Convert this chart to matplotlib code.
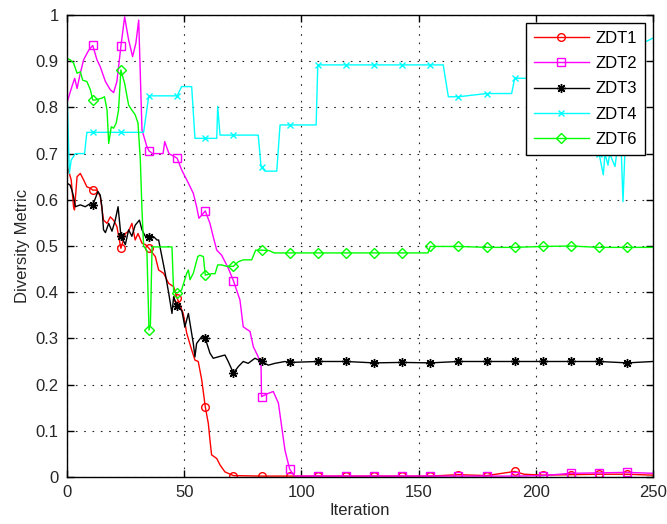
import matplotlib
matplotlib.use("Agg")
import matplotlib.pyplot as plt

plt.rcParams['font.family'] = ['Liberation Sans', 'DejaVu Sans']

# iterations where the curves carry a marker
MARK_X = [11, 23, 35, 47, 59, 71, 83, 95, 107, 119, 131, 143, 155, 167, 179, 191, 203, 215, 227, 239]

zdt1_x = [0, 1.8, 2.8, 3.2, 4.3, 5.7, 7.1, 8.5, 10, 11, 12.8, 14.2, 15.6, 17.1, 18.5, 20, 21.3, 23, 24.9, 26.3,
          27.7, 29.1, 30.3, 32, 33.5, 35, 37.7, 39.1, 41.2, 43.4, 45.5, 47, 49.6, 51.1, 53.2, 54.6, 56, 57.5, 59, 60.3,
          61, 61.7, 63.9, 65.3, 67.4, 71, 83, 95, 107, 119, 131, 143, 155, 167, 179, 191, 195, 203, 215, 227, 239, 250]
zdt1_y = [0.675, 0.643, 0.585, 0.578, 0.65, 0.657, 0.643, 0.628, 0.625, 0.621, 0.621, 0.607, 0.556, 0.549, 0.563,
          0.555, 0.542, 0.495, 0.527, 0.532, 0.549, 0.513, 0.527, 0.506, 0.503, 0.495, 0.477, 0.448, 0.441, 0.419,
          0.412, 0.387, 0.354, 0.311, 0.275, 0.253, 0.25, 0.21, 0.152, 0.116, 0.08, 0.048, 0.04, 0.026, 0.011,
          0.003, 0.002, 0.002, 0.002, 0.002, 0.002, 0.002, 0.002, 0.005, 0.003, 0.012, 0.006, 0.004, 0.005, 0.006,
          0.006, 0.004]

zdt2_x = [0, 2.1, 3.3, 4.3, 5.7, 7.1, 9.3, 11, 12.8, 14.2, 16.4, 18.5, 19.9, 21.3, 23, 24.6, 26.3, 28, 29.4, 30.6,
          32, 34.1, 35, 36.5, 41, 41.7, 43.5, 47, 48.9, 51.8, 53.9, 55.3, 56.3, 58.2, 59, 61, 62.4, 63.9, 66, 68.8,
          71, 73.8, 75.2, 78.1, 79.5, 81.6, 82.8, 83, 85.9, 88, 90.2, 91.6, 93, 95, 97, 107, 119, 131, 143, 155,
          167, 179, 191, 203, 215, 227, 239, 250]
zdt2_y = [0.81, 0.845, 0.863, 0.841, 0.874, 0.903, 0.924, 0.934, 0.903, 0.888, 0.856, 0.838, 0.832, 0.856, 0.932,
          0.996, 0.946, 0.91, 0.939, 0.989, 0.751, 0.715, 0.706, 0.70, 0.70, 0.726, 0.70, 0.69, 0.665, 0.636,
          0.614, 0.585, 0.56, 0.571, 0.576, 0.549, 0.52, 0.491, 0.48, 0.452, 0.425, 0.383, 0.325, 0.315, 0.282,
          0.26, 0.239, 0.174, 0.181, 0.185, 0.16, 0.109, 0.058, 0.017, 0.002, 0.002, 0.002, 0.002, 0.002, 0.002,
          0.002, 0.002, 0.002, 0.003, 0.008, 0.009, 0.01, 0.008]

zdt3_x = [0, 1.3, 2.1, 2.8, 3.6, 5.7, 7.8, 10, 11, 12.1, 13.2, 14.2, 14.9, 15.6, 16.4, 17.8, 19.2, 20.6, 21.8, 22.5,
          23, 24.9, 26.3, 27.7, 29.1, 30.9, 32, 33.4, 35, 37, 38.4, 39.1, 40.5, 41.9, 43.4, 44.8, 45.5, 47, 49, 50.3,
          51.8, 53.9, 54.6, 55.3, 57.5, 59, 61, 62.4, 64.5, 67.4, 68.8, 71, 73.1, 75.2, 77.3, 80.2, 83, 85.9, 88.7,
          93, 95, 107, 119, 131, 143, 155, 167, 179, 191, 203, 215, 227, 239, 250]
zdt3_y = [0.636, 0.632, 0.621, 0.607, 0.585, 0.589, 0.585, 0.592, 0.589, 0.603, 0.618, 0.61, 0.585, 0.535, 0.529,
          0.549, 0.532, 0.556, 0.585, 0.549, 0.522, 0.503, 0.535, 0.521, 0.545, 0.556, 0.535, 0.521, 0.52, 0.52,
          0.513, 0.513, 0.477, 0.441, 0.398, 0.354, 0.39, 0.37, 0.36, 0.325, 0.354, 0.289, 0.26, 0.289, 0.304,
          0.30, 0.268, 0.257, 0.26, 0.264, 0.25, 0.225, 0.239, 0.25, 0.246, 0.257, 0.25, 0.242, 0.246, 0.25,
          0.248, 0.25, 0.25, 0.247, 0.248, 0.247, 0.25, 0.25, 0.25, 0.25, 0.25, 0.25, 0.247, 0.25]

zdt4_x = [0, 1.0, 1.8, 3.6, 7.5, 8.5, 11, 23, 32.7, 34.9, 35, 47, 48.9, 53.2, 54.6, 59, 63.9, 64.3, 65.3, 71,
          81.6, 82.8, 83, 84.5, 89.5, 90.9, 95, 106.3, 107, 119, 131, 143, 155, 160.5, 162.7, 167, 179, 189.7, 191,
          203, 215, 226, 227, 228.8, 229.5, 230.8, 231.5, 233.8, 234.5, 236.5, 237.2, 238, 239, 246, 250]
zdt4_y = [0.845, 0.657, 0.686, 0.70, 0.70, 0.746, 0.746, 0.746, 0.746, 0.825, 0.825, 0.825, 0.845, 0.845, 0.733,
          0.733, 0.733, 0.802, 0.74, 0.74, 0.74, 0.672, 0.67, 0.662, 0.662, 0.762, 0.762, 0.762, 0.892, 0.892,
          0.892, 0.892, 0.892, 0.892, 0.823, 0.823, 0.83, 0.83, 0.863, 0.863, 0.863, 0.86, 0.70, 0.654, 0.70,
          0.675, 0.70, 0.672, 0.70, 0.70, 0.596, 0.70, 0.72, 0.94, 0.95]

zdt6_x = [0, 1.4, 2.8, 4.3, 5.7, 6.7, 8.5, 10, 11, 12, 13.5, 14.9, 16, 17.1, 17.8, 18.9, 19.9, 21, 22, 23,
          24.6, 26.3, 27.7, 29.1, 30.3, 31.3, 32, 32.7, 34.1, 35, 35.6, 36.3, 44.8, 45.5, 47, 48.9, 51.1, 51.8, 52.5,
          53.9, 55.8, 56.7, 58.2, 59, 61.7, 63.2, 64.3, 66, 68.1, 71, 73.1, 75.2, 78.8, 80.5, 83, 86.3, 88.4, 95,
          107, 119, 131, 143, 154, 155, 167, 179, 191, 203, 215, 227, 239, 250]
zdt6_y = [0.906, 0.903, 0.896, 0.874, 0.877, 0.859, 0.856, 0.838, 0.816, 0.816, 0.818, 0.82, 0.823, 0.794, 0.722,
          0.758, 0.755, 0.766, 0.794, 0.881, 0.852, 0.805, 0.794, 0.784, 0.766, 0.686, 0.578, 0.50, 0.49, 0.318,
          0.33, 0.498, 0.498, 0.40, 0.398, 0.405, 0.441, 0.448, 0.427, 0.441, 0.477, 0.48, 0.477, 0.437, 0.44,
          0.44, 0.459, 0.459, 0.456, 0.456, 0.466, 0.47, 0.47, 0.491, 0.491, 0.49, 0.485, 0.485, 0.485, 0.485,
          0.485, 0.485, 0.485, 0.499, 0.499, 0.497, 0.497, 0.499, 0.50, 0.497, 0.497, 0.497]

series = [
    ('ZDT1', zdt1_x, zdt1_y, '#ff0000', 'o', 5.5),
    ('ZDT2', zdt2_x, zdt2_y, '#ff00ff', 's', 6),
    ('ZDT3', zdt3_x, zdt3_y, '#000000', (8, 2, 0), 6.5),
    ('ZDT4', zdt4_x, zdt4_y, '#00ffff', 'x', 5),
    ('ZDT6', zdt6_x, zdt6_y, '#00ff00', 'D', 5),
]

fig = plt.figure(figsize=(6.67, 5.24), dpi=100)
ax = fig.add_axes([0.1004, 0.0897, 0.8786, 0.8817])

for name, xs, ys, col, mk, ms in series:
    idx = [i for i, x in enumerate(xs) if x in MARK_X]
    ax.plot(xs, ys, color=col, lw=1.0, marker=mk, ms=ms, mfc='none', mec=col,
            mew=1.0, markevery=idx, label=name)

ax.set_xlim(0, 250)
ax.set_ylim(0, 1)
ax.set_xticks(range(0, 251, 50))
ax.set_yticks([i / 10 for i in range(11)])
ax.set_yticklabels(['0', '0.1', '0.2', '0.3', '0.4', '0.5', '0.6', '0.7', '0.8', '0.9', '1'])
ax.tick_params(direction='in', top=True, right=True, length=5, width=1, labelsize=12, pad=6,
               labelcolor='0.15')
ax.grid(True, color='0.15', lw=0.8, linestyle=(0, (1.5, 6)))
for sp in ax.spines.values():
    sp.set_color('k')
    sp.set_linewidth(1.0)

ax.set_xlabel('Iteration', fontsize=12, labelpad=2, color='0.15')
ax.set_ylabel('Diversity Metric', fontsize=12, labelpad=4, color='0.15')

leg = ax.legend(loc='upper right', fontsize=12, handlelength=3.3, labelspacing=0.62,
                fancybox=False, framealpha=1, edgecolor='k', borderaxespad=0.5,
                borderpad=0.45, handletextpad=0.4)
leg.get_frame().set_linewidth(1.0)

fig.savefig('out.png', dpi=100)
